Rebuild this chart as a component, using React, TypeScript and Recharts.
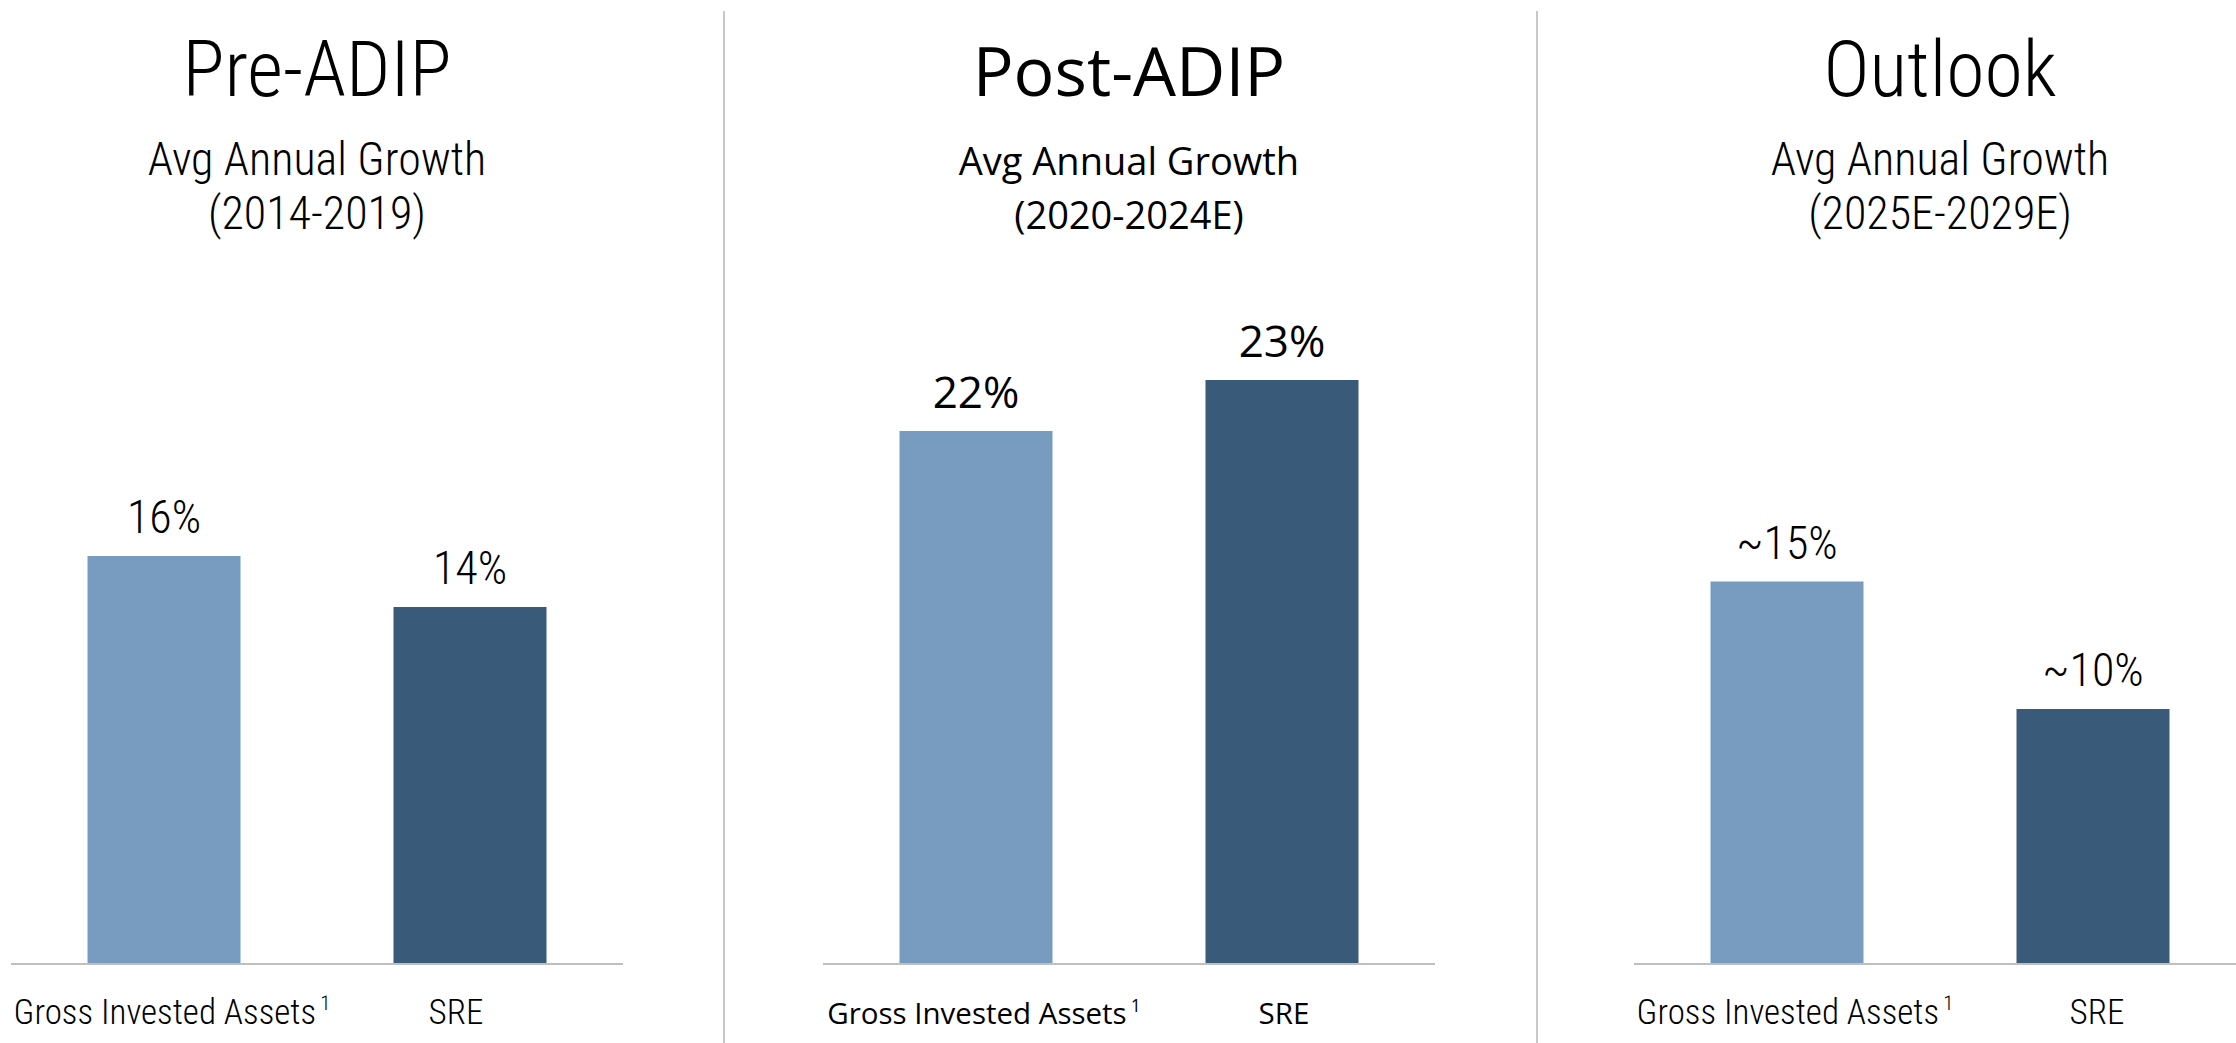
import { BarChart, Bar, XAxis, YAxis, Cell, LabelList } from "recharts";

const categories = ["Gross Invested Assets", "SRE"];
const panelTitles = ["Pre-ADIP", "Post-ADIP", "Outlook"];
const subtitle = "Avg Annual Growth";
const periods = ["(2014-2019)", "(2020-2024E)", "(2025E-2029E)"];
const preAdipGrowth = [16, 14];
const postAdipGrowth = [20.9, 22.9];
const outlookGrowth = [15, 10];
const preAdipLabels = ["16%", "14%"];
const postAdipLabels = ["22%", "23%"];
const outlookLabels = ["~15%", "~10%"];
const barColors = ["#789cbf", "#395a78"];

const NARROW = '"Roboto Condensed", "Liberation Sans Narrow", "Liberation Sans", sans-serif';
const WIDE = '"Open Sans", "Noto Sans", sans-serif';

const panels = [
  { left: 11, values: preAdipGrowth, labels: preAdipLabels, font: NARROW, weight: 300, title: 78, sub: 46, val: 46, cat: 35, sreDx: -14 },
  { left: 823, values: postAdipGrowth, labels: postAdipLabels, font: WIDE, weight: 400, title: 68, sub: 38, val: 44, cat: 29.5, sreDx: 2 },
  { left: 1634, values: outlookGrowth, labels: outlookLabels, font: NARROW, weight: 300, title: 78, sub: 46, val: 46, cat: 35, sreDx: 4 },
];

const W = 612;
const PAD = 40;
const H = 1043;

const Panel = ({ p, idx }: { p: (typeof panels)[number]; idx: number }) => {
  const data = categories.map((name, i) => ({ name, value: p.values[i], label: p.labels[i] }));

  const renderTick = (props: any) => {
    const { x, y, payload } = props;
    const isGia = payload.value === categories[0];
    return (
      <text
        x={x + (isGia ? 8 : p.sreDx)}
        y={y + 60}
        textAnchor="middle"
        fontFamily={p.font}
        fontWeight={p.weight}
        fontSize={p.cat}
        fill="#000"
      >
        {payload.value}
        {isGia ? (
          <tspan dx={4} dy={-p.cat * 0.4} fontSize={p.cat * 0.6}>1</tspan>
        ) : null}
      </text>
    );
  };

  const renderLabel = (props: any) => {
    const { x, y, width, index } = props;
    return (
      <text
        x={x + width / 2}
        y={y - 23}
        textAnchor="middle"
        fontFamily={p.font}
        fontWeight={p.weight}
        fontSize={p.val}
        fill="#000"
      >
        {p.labels[index]}
      </text>
    );
  };

  return (
    <div style={{ position: "absolute", left: p.left - PAD, top: 0, width: W + 2 * PAD, height: H }}>
      <svg width={W + 2 * PAD} height={H} style={{ position: "absolute", left: 0, top: 0 }}>
        <g fontFamily={p.font} fontWeight={p.weight} fill="#000" textAnchor="middle">
          <text x={PAD + W / 2} y={96} fontSize={p.title}>{panelTitles[idx]}</text>
          <text x={PAD + W / 2} y={175} fontSize={p.sub}>{subtitle}</text>
          <text x={PAD + W / 2} y={229} fontSize={p.sub}>{periods[idx]}</text>
        </g>
      </svg>
      <div style={{ position: "absolute", left: 0, top: 0 }}>
        <BarChart
          width={W + 2 * PAD}
          height={H}
          data={data}
          margin={{ top: 199, right: PAD, left: PAD, bottom: 0 }}
          barCategoryGap="25%"
        >
          <YAxis hide domain={[0, 30]} />
          <XAxis
            dataKey="name"
            height={79}
            interval={0}
            tickLine={false}
            tickSize={0}
            tickMargin={0}
            axisLine={{ stroke: "#bfbfbf", strokeWidth: 2 }}
            tick={renderTick}
          />
          <Bar dataKey="value" isAnimationActive={false}>
            {data.map((d, i) => (
              <Cell key={d.name} fill={barColors[i]} />
            ))}
            <LabelList dataKey="label" content={renderLabel} />
          </Bar>
        </BarChart>
      </div>
    </div>
  );
};

export default function App() {
  return (
    <div style={{ position: "absolute", left: 0, top: 0, width: 2236, height: H, overflow: "hidden", background: "#fff" }}>
      <svg width={2236} height={H} style={{ position: "absolute", left: 0, top: 0 }}>
        <line x1={724} y1={11} x2={724} y2={H} stroke="#c8c8c8" strokeWidth={2} />
        <line x1={1537} y1={11} x2={1537} y2={H} stroke="#c8c8c8" strokeWidth={2} />
      </svg>
      {panels.map((p, i) => (
        <Panel key={i} p={p} idx={i} />
      ))}
    </div>
  );
}
